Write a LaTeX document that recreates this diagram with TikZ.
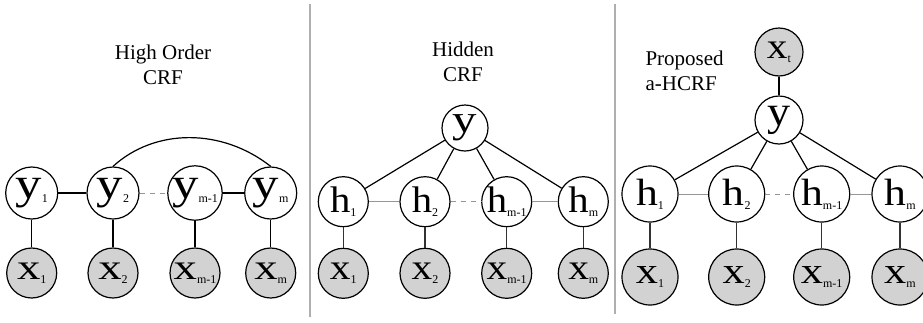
\documentclass[tikz,border=0pt]{standalone}
\usepackage{fontspec}
\setmainfont{Liberation Serif}
\definecolor{obs}{RGB}{210,210,210}
\definecolor{lgray}{RGB}{150,150,150}
\definecolor{vgray}{RGB}{50,50,50}
\definecolor{divgray}{RGB}{175,175,175}
% \lab{size}{xstretch}{letter}{subscript}
\newcommand{\lab}[4]{\scalebox{#2}[1]{\fontsize{#1}{#1}\selectfont #3}\raisebox{-4pt}{\fontsize{12}{12}\selectfont #4}}
\tikzset{
  var/.style={circle, draw, line width=1.2pt, fill=white, inner sep=0pt},
  obsv/.style={var, fill=obs},
  edge/.style={line width=1.2pt},
  vedge/.style={line width=1.3pt, draw=vgray},
  hedge/.style={line width=1pt, draw=lgray},
  dedge/.style={line width=1pt, draw=lgray, dash pattern=on 5pt off 5pt},
  title/.style={font=\fontsize{21}{24.5}\selectfont, align=center},
  divider/.style={draw=divgray, line width=1.2pt}
}
\begin{document}
\begin{tikzpicture}[x=1pt, y=-1pt]
\useasboundingbox (0,0) rectangle (923,322);
\clip (0,0) rectangle (923,322);
% dividers
\coordinate (d1a) at (310,4); \coordinate (d1b) at (310,317);
\coordinate (d2a) at (615,4); \coordinate (d2b) at (615,314);
\draw[divider] (d1a) -- (d1b);
\draw[divider] (d2a) -- (d2b);
% ---------- panel 1 ----------
\node[title] (t1) at (163,65) {High Order\\CRF};
\node[var, minimum size=52pt] (a1) at (31.7,193) {\lab{44}{1.2}{y}{1}};
\node[var, minimum size=52pt] (a2) at (113,193) {\lab{44}{1.2}{y}{2}};
\node[var, minimum size=52pt] (a3) at (195,193) {\lab{44}{1.2}{y}{m-1}};
\node[var, minimum size=52pt] (a4) at (270.7,193) {\lab{44}{1.2}{y}{m}};
\node[obsv, minimum size=50pt] (b1) at (31.7,273) {\lab{36}{1.3}{x}{1}};
\node[obsv, minimum size=50pt] (b2) at (113,273) {\lab{36}{1.3}{x}{2}};
\node[obsv, minimum size=50pt] (b3) at (195,273) {\lab{36}{1.3}{x}{m-1}};
\node[obsv, minimum size=50pt] (b4) at (270.7,273) {\lab{36}{1.3}{x}{m}};
\draw[edge] (a1) -- (a2);
\draw[dedge] (a2) -- (a3);
\draw[edge] (a3) -- (a4);
\foreach \i in {1,...,4} { \draw[edge] (a\i) -- (b\i); }
\draw[edge] (a2.north) .. controls (155,128) and (222,128) .. (a4.north);
% ---------- panel 2 ----------
\node[title] (t2) at (463,62) {Hidden\\CRF};
\node[var, minimum size=46pt] (cy) at (465,128) {\lab{39}{1.25}{y}{}};
\node[var, minimum size=50pt] (c1) at (343.3,201.7) {\lab{37}{1.1}{h}{1}};
\node[var, minimum size=50pt] (c2) at (425,201.7) {\lab{37}{1.1}{h}{2}};
\node[var, minimum size=50pt] (c3) at (506.7,201.7) {\lab{37}{1.1}{h}{m-1}};
\node[var, minimum size=50pt] (c4) at (583.3,201.7) {\lab{37}{1.1}{h}{m}};
\node[obsv, minimum size=50pt] (e1) at (343.3,273.3) {\lab{36}{1.15}{x}{1}};
\node[obsv, minimum size=50pt] (e2) at (425,273.3) {\lab{36}{1.15}{x}{2}};
\node[obsv, minimum size=50pt] (e3) at (506.7,273.3) {\lab{36}{1.15}{x}{m-1}};
\node[obsv, minimum size=50pt] (e4) at (583.3,273.3) {\lab{36}{1.15}{x}{m}};
\foreach \i in {1,...,4} { \draw[edge] (cy) -- (c\i); \draw[vedge] (c\i) -- (e\i); }
\draw[hedge] (c1) -- (c2);
\draw[dedge] (c2) -- (c3);
\draw[hedge] (c3) -- (c4);
% ---------- panel 3 ----------
\node[title, align=left, anchor=west] (t3) at (642,71) {Proposed\\a-HCRF};
\node[obsv, minimum size=48pt] (fxt) at (779,52) {\lab{36}{1.15}{x}{t}};
\node[var, minimum size=48pt] (fy) at (779,120) {\lab{42}{1.1}{y}{}};
\node[var, minimum size=56pt] (f1) at (650,194) {\lab{38}{1.15}{h}{1}};
\node[var, minimum size=56pt] (f2) at (736.7,194) {\lab{38}{1.15}{h}{2}};
\node[var, minimum size=56pt] (f3) at (821.7,194) {\lab{38}{1.15}{h}{m-1}};
\node[var, minimum size=56pt] (f4) at (900,194) {\lab{38}{1.15}{h}{m}};
\node[obsv, minimum size=56pt] (g1) at (650,277) {\lab{37}{1.2}{x}{1}};
\node[obsv, minimum size=56pt] (g2) at (736.7,277) {\lab{37}{1.2}{x}{2}};
\node[obsv, minimum size=56pt] (g3) at (821.7,277) {\lab{37}{1.2}{x}{m-1}};
\node[obsv, minimum size=56pt] (g4) at (900,277) {\lab{37}{1.2}{x}{m}};
\draw[edge] (fxt) -- (fy);
\foreach \i in {1,...,4} { \draw[edge] (fy) -- (f\i); \draw[vedge] (f\i) -- (g\i); }
\draw[hedge] (f1) -- (f2);
\draw[dedge] (f2) -- (f3);
\draw[hedge] (f3) -- (f4);
\end{tikzpicture}
\end{document}
